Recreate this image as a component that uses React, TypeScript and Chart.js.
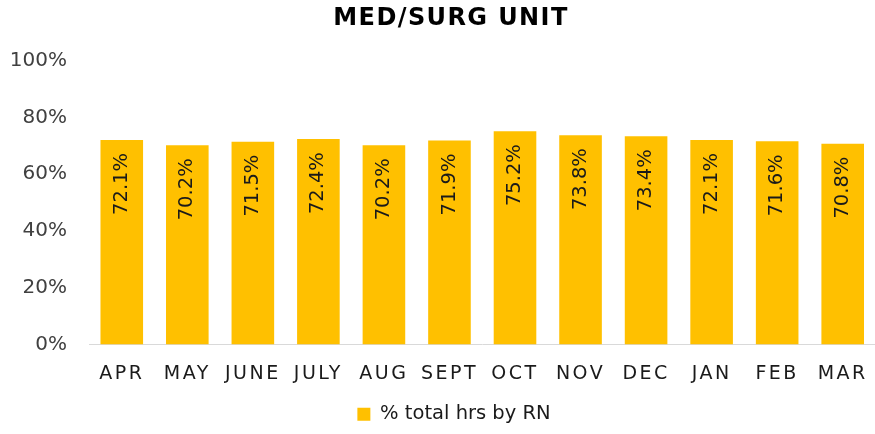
import React, { useEffect, useRef } from "react";
import { Chart, registerables } from "chart.js";

Chart.register(...registerables);

const categories = ["APR", "MAY", "JUNE", "JULY", "AUG", "SEPT", "OCT", "NOV", "DEC", "JAN", "FEB", "MAR"];
const rnPercent = [72.1, 70.2, 71.5, 72.4, 70.2, 71.9, 75.2, 73.8, 73.4, 72.1, 71.6, 70.8];
const seriesName = "% total hrs by RN";
const yTicks = [0, 20, 40, 60, 80, 100];

const FONT = "'DejaVu Sans', sans-serif";

function patchDraw(obj: any, key: string, ctx: any, spacing: string, dx: number) {
  if (!obj || obj.__patched) return;
  const orig = obj[key].bind(obj);
  obj[key] = (...args: any[]) => {
    ctx.save();
    ctx.letterSpacing = spacing;
    ctx.translate(dx, 0);
    orig(...args);
    ctx.restore();
  };
  obj.__patched = true;
}

const barLabelPlugin = {
  id: "barLabels",
  beforeDraw(chart: any) {
    patchDraw(chart.scales.x, "drawLabels", chart.ctx, "2.5px", 0);
    patchDraw(chart.titleBlock, "draw", chart.ctx, "1.4px", 5);
    patchDraw(chart.legend, "draw", chart.ctx, "0px", 8);
  },
  afterDatasetsDraw(chart: any) {
    const ctx = chart.ctx;
    const meta = chart.getDatasetMeta(0);
    ctx.save();
    ctx.font = `19.5px ${FONT}`;
    ctx.fillStyle = "#1a1a1a";
    ctx.textAlign = "right";
    ctx.textBaseline = "middle";
    meta.data.forEach((bar: any, i: number) => {
      ctx.save();
      ctx.translate(bar.x, bar.y + 13);
      ctx.rotate(-Math.PI / 2);
      ctx.fillText(rnPercent[i].toFixed(1) + "%", 0, 0);
      ctx.restore();
    });
    ctx.restore();
  },
};

export default function App() {
  const ref = useRef<HTMLCanvasElement>(null);
  useEffect(() => {
    document.body.style.margin = "0";
    const chart = new Chart(ref.current!, {
      type: "bar",
      data: {
        labels: categories,
        datasets: [
          {
            label: seriesName,
            data: rnPercent,
            backgroundColor: "#FFC000",
            borderWidth: 0,
            barPercentage: 1,
            categoryPercentage: 0.65,
          },
        ],
      },
      options: {
        animation: false,
        responsive: false,
        maintainAspectRatio: false,
        layout: { padding: { left: 10, right: 0, top: 0, bottom: 0 } },
        plugins: {
          title: {
            display: true,
            text: "MED/SURG UNIT",
            color: "#000",
            font: { family: FONT, size: 24, weight: "bold" },
            padding: { top: 4, bottom: 28 },
          },
          legend: {
            position: "bottom",
            labels: {
              color: "#1a1a1a",
              font: { family: FONT, size: 19.5 },
              boxWidth: 13,
              boxHeight: 13,
              padding: 5,
            },
          },
          tooltip: { enabled: false },
        },
        scales: {
          x: {
            grid: { display: false, drawTicks: false },
            border: { color: "#d9d9d9", width: 1 },
            afterFit: (axis: any) => {
              axis.height = 55;
            },
            ticks: {
              color: "#1a1a1a",
              font: { family: FONT, size: 19 },
              maxRotation: 0,
              padding: 18,
            },
          },
          y: {
            min: 0,
            max: 100,
            grid: { display: false, drawTicks: false },
            border: { display: false },
            afterFit: (axis: any) => {
              axis.width = 79;
            },
            afterBuildTicks: (axis: any) => {
              axis.ticks = yTicks.map((v) => ({ value: v }));
            },
            ticks: {
              color: "#404040",
              font: { family: FONT, size: 20 },
              padding: 22,
              callback: (v: any) => v + "%",
            },
          },
        },
      },
      plugins: [barLabelPlugin],
    });
    chart.draw();
    return () => chart.destroy();
  }, []);
  return (
    <div style={{ width: 875, height: 434, overflow: "hidden" }}>
      <canvas ref={ref} width={882} height={434} style={{ display: "block" }} />
    </div>
  );
}
